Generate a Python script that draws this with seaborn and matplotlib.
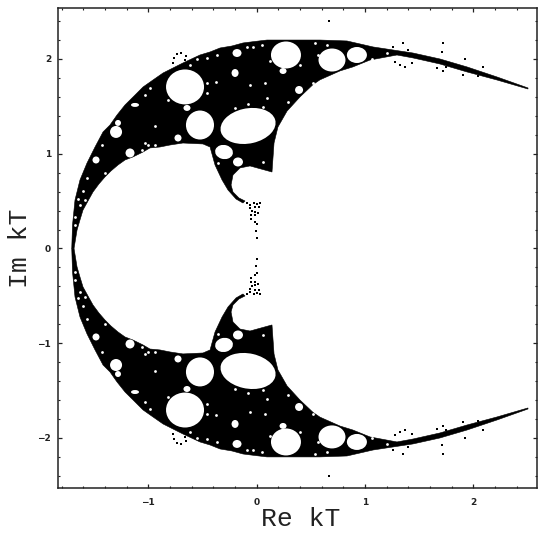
import numpy as np
import pandas as pd
import matplotlib
matplotlib.use("Agg")
import matplotlib.pyplot as plt
from matplotlib.patches import Ellipse
import seaborn as sns

# upper half of the black region boundary (Re kT, Im kT)
outer_re = [-1.707,-1.700,-1.677,-1.631,-1.566,-1.492,-1.418,-1.354,-1.289,-1.215,-1.132,-1.049,-0.957,-0.864,-0.772,-0.680,-0.523,-0.430,-0.338,-0.228,-0.126,-0.015,0.096,0.585,0.835,1.075,1.259,1.444,1.693,1.943,2.220,2.506]
outer_im = [0,0.248,0.512,0.723,0.902,1.071,1.230,1.303,1.409,1.515,1.609,1.704,1.778,1.852,1.905,1.958,2.042,2.074,2.116,2.137,2.169,2.185,2.200,2.200,2.190,2.127,2.095,2.063,2.000,1.916,1.810,1.694]
tail_re = [2.506,2.220,1.943,1.693,1.444,1.296,1.047,0.889,0.770,0.585,0.521,0.401,0.281,0.197,0.161,0.142]
tail_im = [1.683,1.778,1.863,1.947,2.011,2.042,1.989,1.916,1.874,1.780,1.730,1.600,1.450,1.282,1.114,0.807]
arc_re = [-0.061,-0.153,-0.218,-0.236,-0.218,-0.163,-0.107,-0.126,-0.190,-0.264,-0.319,-0.384,-0.430]
arc_im = [0.871,0.850,0.776,0.670,0.596,0.533,0.501,0.480,0.522,0.617,0.723,0.881,1.071]
inner_re = [-0.495,-0.680,-0.800,-0.892,-0.985,-1.049,-1.142,-1.215,-1.280,-1.345,-1.400,-1.456,-1.511,-1.557,-1.603,-1.631,-1.658,-1.686]
inner_im = [1.103,1.113,1.092,1.071,1.061,1.018,0.966,0.934,0.881,0.818,0.755,0.681,0.596,0.501,0.406,0.301,0.195,0]
boundary_re = outer_re + tail_re + arc_re + inner_re
boundary_im = outer_im + tail_im + arc_im + inner_im

# white holes: centre, width, height, tilt
hole_re = [-0.661,-0.523,-0.079,-0.301,-0.172,0.271,0.696,0.926,0.392,-1.298,-1.169,-0.181,-0.199,0.244,-0.643,-0.726,-1.483,-1.123,-1.280]
hole_im = [1.705,1.303,1.293,1.018,0.913,2.042,1.989,2.042,1.673,1.230,1.008,2.063,1.852,1.873,1.483,1.166,0.934,1.515,1.325]
hole_w = [0.351,0.259,0.517,0.166,0.092,0.277,0.249,0.185,0.074,0.111,0.083,0.083,0.065,0.065,0.065,0.065,0.065,0.074,0.055]
hole_h = [0.369,0.306,0.369,0.148,0.095,0.285,0.243,0.169,0.084,0.127,0.095,0.084,0.084,0.063,0.063,0.074,0.074,0.042,0.063]
hole_tilt = [0,0,15,-20,0,0,0,0,0,0,0,0,0,0,0,0,0,0,0]

# tiny white specks inside the black region
speck_re = [-1.428,-1.566,-1.400,-1.603,-1.649,-1.584,-1.631,-1.677,-1.677,-1.058,-1.003,-1.030,-0.984,-0.938,-1.030,-0.818,-0.615,-0.550,-0.458,-0.938,-0.458,-0.366,-0.458,-0.033,0.050,-0.089,-0.458,-0.375,-0.061,0.078,0.096,-0.079,-0.199,0.059,0.290,0.521,0.124,0.539,0.567,0.401,0.059,-0.356,0.650,1.203,1.064]
speck_im = [1.092,0.744,0.797,0.607,0.522,0.512,0.459,0.332,0.248,1.040,1.092,1.620,1.694,1.092,1.113,1.567,1.937,2.000,1.747,1.293,1.251,2.042,2.011,2.127,2.148,2.127,1.641,1.757,1.726,1.747,1.588,1.525,1.483,1.493,1.546,1.747,1.979,2.169,2.042,1.937,0.913,0.902,2.148,2.063,2.000]

# stray black dots outside the black region
dot_re = [-0.772,-0.763,-0.735,-0.698,-0.652,-0.661,1.259,1.352,1.398,1.324,1.370,1.435,1.278,1.721,1.712,1.666,1.721,1.749,1.906,1.924,2.091,2.044,0.668,
          0.004,-0.006,0.004,-0.015,-0.089,-0.061,-0.024,0.004,0.031,-0.061,-0.015,0.022,-0.042,-0.015,-0.052,-0.015,0.013,-0.052]
dot_im = [1.958,2.011,2.053,2.063,2.032,1.989,2.127,2.169,2.095,1.937,1.916,1.958,1.968,2.169,2.074,1.905,1.874,1.916,1.831,2.000,1.916,1.821,2.401,
          0.259,0.185,0.111,0.280,0.480,0.459,0.480,0.470,0.480,0.427,0.438,0.438,0.396,0.385,0.354,0.354,0.375,0.311]

x_major = [-1, 0, 1, 2]
y_major = [-2, -1, 0, 1, 2]
x_minor = [-1.8,-1.6,-1.4,-1.2,-0.8,-0.6,-0.4,-0.2,0.2,0.4,0.6,0.8,1.2,1.4,1.6,1.8,2.2,2.4]
y_minor = [-2.4,-2.2,-1.8,-1.6,-1.4,-1.2,-0.8,-0.6,-0.4,-0.2,0.2,0.4,0.6,0.8,1.2,1.4,1.6,1.8,2.2,2.4]

sns.set_style("ticks")
W, H = 538, 536
fig = plt.figure(figsize=(W/100, H/100), dpi=100)
ax = fig.add_axes([58/W, 1-488/H, (537-58)/W, (488-8)/H])

for sign in (1, -1):
    ax.fill(boundary_re, [sign*v for v in boundary_im], color="black", lw=0.4, zorder=2)
    for r, i, w, h, t in zip(hole_re, hole_im, hole_w, hole_h, hole_tilt):
        ax.add_patch(Ellipse((r, sign*i), w, h, angle=sign*t, color="white", lw=0, zorder=3))

specks = pd.DataFrame({"re": speck_re + speck_re, "im": speck_im + [-v for v in speck_im]})
dots = pd.DataFrame({"re": dot_re + dot_re, "im": dot_im + [-v for v in dot_im]})
sns.scatterplot(data=specks, x="re", y="im", ax=ax, color="white", s=4, linewidth=0, zorder=4)
sns.scatterplot(data=dots, x="re", y="im", ax=ax, color="black", s=2.6, marker="s", linewidth=0, zorder=4)

ax.set_xlim(-1.834, 2.589)
ax.set_ylim(-2.528, 2.538)
ax.set_xticks(x_major)
ax.set_yticks(y_major)
ax.set_xticks(x_minor, minor=True)
ax.set_yticks(y_minor, minor=True)
ax.tick_params(axis="x", which="major", direction="in", length=3, width=0.9, top=True, color="#222222",
               labelsize=6.5, pad=7, labelcolor="#222222")
ax.tick_params(axis="y", which="major", direction="in", length=3, width=0.9, right=True, color="#222222",
               labelsize=6.5, pad=5, labelcolor="#222222")
ax.tick_params(which="minor", direction="in", length=1.6, width=0.8, top=True, right=True, color="#222222")
for lab in ax.get_xticklabels() + ax.get_yticklabels():
    lab.set_fontweight("bold")
for s in ax.spines.values():
    s.set_visible(True)
    s.set_linewidth(1.1)
    s.set_color("#222222")

ax.set_xlabel("Re kT", family="Liberation Mono", fontsize=19, color="#222222", va="center")
ax.set_ylabel("Im kT", family="Liberation Mono", fontsize=19, color="#222222", va="center")
ax.xaxis.set_label_coords((301-58)/479, -(519-488)/480, transform=ax.transAxes)
ax.yaxis.set_label_coords(-(58-20)/479, 0.5, transform=ax.transAxes)
fig.savefig("out.png", dpi=100)
